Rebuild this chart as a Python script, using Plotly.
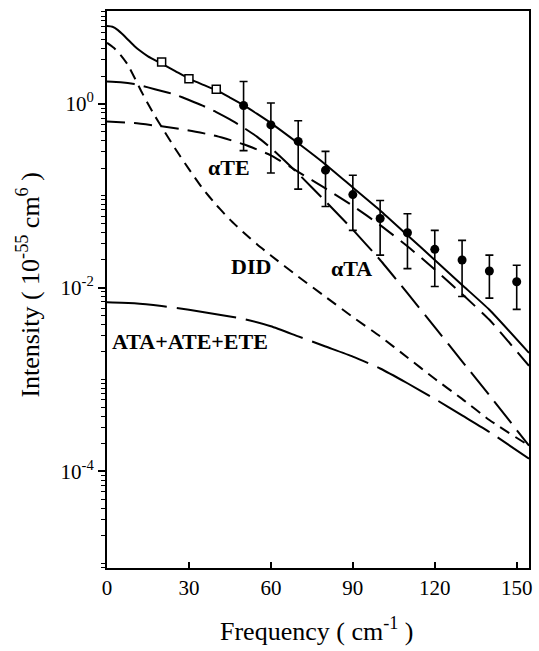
import plotly.graph_objects as go

# ---- data ----
freq = [0, 2, 4, 6, 8, 10, 12, 15, 20, 25, 30, 35, 40, 45, 50, 55, 60, 70, 80, 90,
        100, 110, 120, 130, 140, 154.5]
total = [7.01, 6.89, 6.34, 5.60, 4.88, 4.27, 3.80, 3.29, 2.74, 2.27, 1.88, 1.62, 1.41,
         1.17, 0.966, 0.776, 0.617, 0.372, 0.219, 0.123, 0.0692, 0.0372, 0.0200,
         0.0107, 0.00575, 0.00195]

freq_te = [0, 10, 20, 30, 40, 50, 60, 70, 80, 90, 100, 110, 120, 130, 140, 154.5]
alpha_te = [0.643, 0.617, 0.569, 0.513, 0.447, 0.363, 0.275, 0.182, 0.120, 0.0776,
            0.0479, 0.0282, 0.0158, 0.00851, 0.00447, 0.00141]

freq_ta = [0, 5, 10, 15, 20, 25, 30, 35, 40, 45, 50, 55, 60, 70, 80, 90, 100, 110,
           120, 130, 140, 154.5]
alpha_ta = [1.75, 1.72, 1.64, 1.51, 1.38, 1.26, 1.10, 0.955, 0.813, 0.676, 0.550,
            0.437, 0.331, 0.174, 0.0871, 0.0427, 0.0200, 0.00871, 0.00372, 0.00158,
            0.000676, 0.000191]

freq_did = [0, 2.5, 5, 7.5, 10, 12.5, 15, 17.5, 20, 25, 30, 35, 40, 45, 50, 55, 60,
            70, 80, 90, 100, 110, 120, 130, 140, 154.5]
did = [4.62, 4.07, 3.39, 2.69, 1.95, 1.38, 1.00, 0.741, 0.562, 0.324, 0.195, 0.120,
       0.0794, 0.0550, 0.0398, 0.0295, 0.0224, 0.0132, 0.00794, 0.00479, 0.00295,
       0.00174, 0.00102, 0.000617, 0.000363, 0.000191]

freq_ata = [0, 10, 20, 30, 40, 50, 60, 70, 80, 90, 100, 110, 120, 130, 140, 154.5]
ata = [0.00692, 0.00676, 0.00631, 0.00575, 0.00513, 0.00457, 0.00380, 0.00295,
       0.00229, 0.00178, 0.00132, 0.000912, 0.000617, 0.000407, 0.000269, 0.000138]

sq_freq = [20, 30, 40]
sq_int = [2.85, 1.88, 1.44]

pt_freq = [50, 60, 70, 80, 90, 100, 110, 120, 130, 140, 150]
pt_int = [0.96, 0.59, 0.39, 0.19, 0.103, 0.0566, 0.0396, 0.0261, 0.020, 0.0152, 0.0116]
pt_hi = [1.75, 1.02, 0.654, 0.304, 0.167, 0.0887, 0.0636, 0.042, 0.0327, 0.0226, 0.0175]
pt_lo = [0.31, 0.177, 0.118, 0.0765, 0.042, 0.0226, 0.0161, 0.0103, 0.0080, 0.0077, 0.0058]

x_ticks = [0, 30, 60, 90, 120, 150]
y_tickvals = [1e0, 1e-2, 1e-4]
y_ticktext = ["10<sup>0</sup>", "10<sup>-2</sup>", "10<sup>-4</sup>"]

FONT = "Liberation Serif"
LW = 2

fig = go.Figure()

def curve(x, y, dash):
    fig.add_trace(go.Scatter(x=x, y=y, mode="lines",
                             line=dict(color="black", width=LW, dash=dash,
                                       shape="spline", smoothing=0.5),
                             showlegend=False, hoverinfo="skip"))

curve(freq_ata, ata, "60px,10px")
curve(freq_did, did, "11px,7px")
curve(freq_ta, alpha_ta, "28px,9px")
curve(freq_te, alpha_te, "18px,9px")
curve(freq, total, "solid")

plus = [h - v for h, v in zip(pt_hi, pt_int)]
minus = [v - l for v, l in zip(pt_int, pt_lo)]
fig.add_trace(go.Scatter(x=pt_freq, y=pt_int, mode="markers",
                         marker=dict(color="black", size=9, symbol="circle"),
                         error_y=dict(type="data", symmetric=False, array=plus,
                                      arrayminus=minus, color="black",
                                      thickness=1.6, width=4),
                         showlegend=False))
fig.add_trace(go.Scatter(x=sq_freq, y=sq_int, mode="markers",
                         marker=dict(color="white", size=8, symbol="square",
                                     line=dict(color="black", width=1.5)),
                         showlegend=False))

minor_vals = [m * 10.0 ** e for e in range(-6, 1) for m in range(1, 10)
              if not (m == 1 and e % 2 == 0)] + [10.0]

fig.update_xaxes(range=[0, 154.5], tickvals=x_ticks, ticks="inside", ticklen=6,
                 tickwidth=1.5, tickcolor="black", showline=True, linecolor="black",
                 linewidth=2, mirror=True, showgrid=False, zeroline=False,
                 tickfont=dict(family=FONT, size=21, color="black"),
                 ticklabelstandoff=0)
fig.update_yaxes(type="log", range=[-5.05, 1.01], tickvals=y_tickvals,
                 ticktext=y_ticktext, ticks="outside", ticklen=7, tickwidth=1.5,
                 tickcolor="black", showline=True, linecolor="black", linewidth=2,
                 mirror=True, showgrid=False, zeroline=False,
                 tickfont=dict(family=FONT, size=21, color="black"),
                 minor=dict(tickvals=minor_vals, ticks="outside", ticklen=4,
                            tickwidth=1, tickcolor="black", showgrid=False))

lab = dict(family=FONT, size=22, color="black")
fig.add_annotation(x=44.7, y=-0.694, text="<b>αTE</b>", showarrow=False, font=lab)
fig.add_annotation(x=52.8, y=-1.77, text="<b>DID</b>", showarrow=False, font=lab)
fig.add_annotation(x=89.5, y=-1.79, text="<b>αTA</b>", showarrow=False, font=lab)
fig.add_annotation(x=1.1, y=-2.59, text="<b>ATA+ATE+ETE</b>", showarrow=False,
                   font=lab, xanchor="left")

title_font = dict(family=FONT, size=26, color="black")
fig.add_annotation(xref="paper", yref="paper", x=0.4976, y=-0.111,
                   text="Frequency ( cm<sup>-1</sup> )", showarrow=False,
                   font=title_font, xanchor="center", yanchor="middle")
fig.add_annotation(xref="paper", yref="paper", x=-0.186, y=0.508,
                   text="Intensity ( 10<sup>-55</sup> cm<sup>6</sup> )", showarrow=False,
                   font=title_font, textangle=-90, xanchor="center", yanchor="middle")

fig.update_layout(width=539, height=651, margin=dict(l=107, r=7, t=11, b=83),
                  paper_bgcolor="white", plot_bgcolor="white")

fig.write_html("out.html")
